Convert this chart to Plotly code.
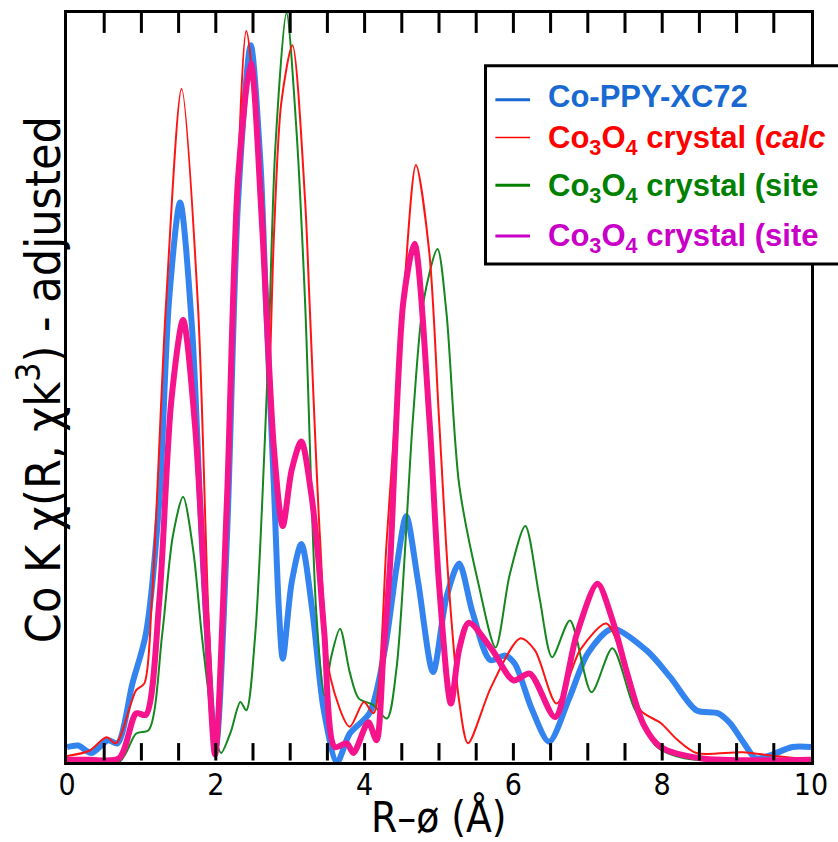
import plotly.graph_objects as go

# R grid points (Å) and |χ(R)| magnitudes (arbitrary units, adjusted) for each spectrum
r_ppy = [0, 0.15, 0.33, 0.55, 0.68, 0.88, 1.06, 1.24, 1.37, 1.52, 1.68, 1.82, 2.0,
         2.15, 2.3, 2.47, 2.6, 2.68, 2.78, 2.85, 2.9, 3.02, 3.15, 3.3, 3.45, 3.63,
         3.8, 4.07, 4.27, 4.43, 4.56, 4.72, 4.92, 5.1, 5.27, 5.45, 5.69, 5.89, 6.02,
         6.25, 6.48, 6.75, 7.0, 7.33, 7.79, 8.11, 8.46, 8.75, 8.91, 9.1, 9.26, 9.48,
         9.75, 10]
chi_ppy = [0.02, 0.022, 0.012, 0.029, 0.025, 0.105, 0.171, 0.348, 0.614, 0.747, 0.58,
           0.28, 0.02, 0.3, 0.75, 0.957, 0.8, 0.6, 0.37, 0.2, 0.138, 0.24, 0.291, 0.2,
           0.07, 0.0, 0.038, 0.066, 0.149, 0.26, 0.328, 0.24, 0.12, 0.22, 0.265, 0.2,
           0.136, 0.142, 0.131, 0.07, 0.027, 0.085, 0.145, 0.178, 0.149, 0.113, 0.069,
           0.065, 0.052, 0.025, 0.005, 0.01, 0.02, 0.02]

r_calc = [0, 0.3, 0.53, 0.66, 0.93, 1.04, 1.14, 1.33, 1.54, 1.76, 1.9, 2.0, 2.2, 2.41,
          2.55, 2.65, 2.71, 2.78, 2.88, 3.03, 3.2, 3.26, 3.4, 3.54, 3.8, 3.99, 4.12,
          4.3, 4.52, 4.69, 4.87, 5.0, 5.13, 5.27, 5.39, 5.7, 6.09, 6.29, 6.58, 6.9,
          7.25, 7.5, 7.71, 7.98, 8.2, 8.46, 9.08, 9.52, 10]
chi_calc = [0.008, 0.015, 0.033, 0.025, 0.096, 0.105, 0.215, 0.61, 0.899, 0.61, 0.2,
            0.02, 0.5, 0.976, 0.85, 0.72, 0.497, 0.7, 0.88, 0.957, 0.75, 0.614, 0.3,
            0.113, 0.047, 0.08, 0.065, 0.3, 0.614, 0.797, 0.68, 0.459, 0.238, 0.082,
            0.025, 0.1, 0.165, 0.149, 0.078, 0.15, 0.185, 0.13, 0.069, 0.052, 0.03,
            0.012, 0.013, 0.008, 0.003]

r_site_a = [0, 0.7, 0.93, 1.1, 1.28, 1.42, 1.56, 1.7, 1.81, 1.95, 2.07, 2.2, 2.33,
            2.41, 2.53, 2.7, 2.8, 2.95, 3.08, 3.2, 3.35, 3.46, 3.55, 3.67, 3.8, 3.92,
            4.12, 4.3, 4.43, 4.65, 4.79, 4.98, 5.1, 5.27, 5.53, 5.76, 5.95, 6.16, 6.35,
            6.52, 6.76, 7.05, 7.33, 7.62, 7.93, 8.3, 10]
chi_site_a = [0.0, 0.0, 0.038, 0.043, 0.171, 0.3, 0.354, 0.28, 0.171, 0.06, 0.012,
              0.04, 0.08, 0.069, 0.17, 0.53, 0.82, 1.0, 0.85, 0.614, 0.2, 0.089, 0.14,
              0.178, 0.12, 0.085, 0.076, 0.058, 0.126, 0.459, 0.614, 0.685, 0.6, 0.371,
              0.238, 0.153, 0.25, 0.315, 0.22, 0.14, 0.189, 0.093, 0.152, 0.073, 0.02,
              0.005, 0.002]

r_site_b = [0, 0.3, 0.7, 0.93, 1.06, 1.24, 1.4, 1.56, 1.72, 1.88, 1.99, 2.15, 2.3, 2.47,
            2.62, 2.78, 2.9, 3.02, 3.15, 3.28, 3.37, 3.46, 3.6, 3.76, 3.85, 4.05, 4.16,
            4.25, 4.34, 4.52, 4.67, 4.87, 5.0, 5.16, 5.27, 5.4, 5.72, 6.0, 6.22, 6.56,
            6.85, 7.13, 7.33, 7.53, 7.75, 7.98, 8.51, 10]
chi_site_b = [0.003, 0.003, 0.005, 0.065, 0.063, 0.215, 0.48, 0.59, 0.45, 0.18, 0.01,
              0.35, 0.78, 0.933, 0.72, 0.42, 0.315, 0.39, 0.428, 0.36, 0.28, 0.17, 0.02,
              0.025, 0.012, 0.053, 0.029, 0.14, 0.26, 0.614, 0.692, 0.459, 0.238, 0.078,
              0.15, 0.186, 0.149, 0.109, 0.118, 0.06, 0.17, 0.238, 0.19, 0.118, 0.05,
              0.02, 0.005, 0.003]

series_names = ["Co-PPY-XC72",
                "Co<sub>3</sub>O<sub>4</sub> crystal (<i>calc</i>",
                "Co<sub>3</sub>O<sub>4</sub> crystal (site",
                "Co<sub>3</sub>O<sub>4</sub> crystal (site"]

# tick marks every 0.5 Å, labels every 2 Å
tick_marks = [i * 0.5 for i in range(1, 20)]
tick_values = [0, 2, 4, 6, 8, 10]
tick_labels = ["0", "2", "4", "6", "8", "10"]

CURVE_BLUE = "rgb(52,132,240)"
CURVE_RED = "rgb(255,20,20)"
CURVE_GREEN = "rgb(20,135,30)"
CURVE_PINK = "rgb(245,20,140)"

fig = go.Figure()
fig.add_trace(go.Scatter(x=r_ppy, y=chi_ppy, mode="lines",
                         line=dict(color=CURVE_BLUE, width=6, shape="spline", smoothing=0.8)))
fig.add_trace(go.Scatter(x=r_site_a, y=chi_site_a, mode="lines",
                         line=dict(color=CURVE_GREEN, width=2, shape="spline", smoothing=0.8)))
fig.add_trace(go.Scatter(x=r_calc, y=chi_calc, mode="lines",
                         line=dict(color=CURVE_RED, width=2, shape="spline", smoothing=0.8)))
fig.add_trace(go.Scatter(x=r_site_b, y=chi_site_b, mode="lines",
                         line=dict(color=CURVE_PINK, width=6, shape="spline", smoothing=0.8)))

narrow = "Liberation Sans Narrow, DejaVu Sans Condensed, Roboto Condensed, sans-serif"

fig.update_layout(
    width=838, height=842,
    margin=dict(l=67, r=19, t=10, b=80),
    paper_bgcolor="white", plot_bgcolor="white",
    showlegend=False,
    xaxis=dict(range=[0, 10], tickvals=tick_values, ticktext=tick_labels,
               ticks="", ticklabelstandoff=-6,
               showline=True, linewidth=3, linecolor="black", mirror=True,
               showgrid=False, zeroline=False,
               tickfont=dict(family=narrow, size=30, color="black")),
    yaxis=dict(range=[0, 1], showticklabels=False, ticks="",
               showline=True, linewidth=3, linecolor="black", mirror=True,
               showgrid=False, zeroline=False),
)

# inward tick marks on the top and bottom frame edges
TOP_LEN = 20 / 752
BOTTOM_LEN = 19 / 752
for v in tick_marks:
    fig.add_shape(type="line", xref="x", yref="y", x0=v, x1=v, y0=1, y1=1 - TOP_LEN,
                  line=dict(color="black", width=3), layer="above")
    fig.add_shape(type="line", xref="x", yref="y", x0=v, x1=v, y0=BOTTOM_LEN, y1=0.002,
                  line=dict(color="black", width=3), layer="above")

# axis titles
fig.add_annotation(xref="paper", yref="paper", x=0.5, y=-0.074, yanchor="middle",
                   text="R\u2013\u00f8 (\u00c5)", showarrow=False,
                   font=dict(family=narrow, size=42, color="black"))
fig.add_annotation(xref="paper", yref="paper", x=-0.036, y=0.51, xanchor="center",
                   textangle=-90, text="Co K \u03c7(R, \u03c7k<sup>3</sup>) - adjusted",
                   showarrow=False, font=dict(family=narrow, size=48, color="black"))

# legend box drawn in pixel-sized paper coordinates
W_PLOT, H_PLOT = 838 - 67 - 19, 842 - 10 - 80


def px_x(px):
    return (px - 67) / W_PLOT


def px_y(py):
    return (762 - py) / H_PLOT


fig.add_shape(type="rect", xref="paper", yref="paper",
              x0=px_x(490), x1=px_x(860), y0=px_y(262), y1=px_y(63),
              line=dict(color="black", width=3), fillcolor="white", layer="above")

legend_text_colors = ["rgb(25,105,210)", "rgb(255,0,0)", "rgb(0,128,0)", "rgb(200,0,200)"]
legend_line_widths = [3, 1.5, 3, 3]
legend_rows_y = [97, 135, 183, 234]
legend_text_y = [94, 138, 186, 236]
for name, col, lw, ry, ty in zip(series_names, legend_text_colors, legend_line_widths,
                                 legend_rows_y, legend_text_y):
    fig.add_shape(type="line", xref="paper", yref="paper",
                  x0=px_x(500), x1=px_x(535), y0=px_y(ry), y1=px_y(ry),
                  line=dict(color=col, width=lw), layer="above")
    fig.add_annotation(xref="paper", yref="paper", x=px_x(551), y=px_y(ty),
                       xanchor="left", yanchor="middle", text="<b>" + name + "</b>",
                       showarrow=False,
                       font=dict(family="Liberation Sans, Arial, sans-serif", size=31, color=col))

fig.write_html("out.html")
